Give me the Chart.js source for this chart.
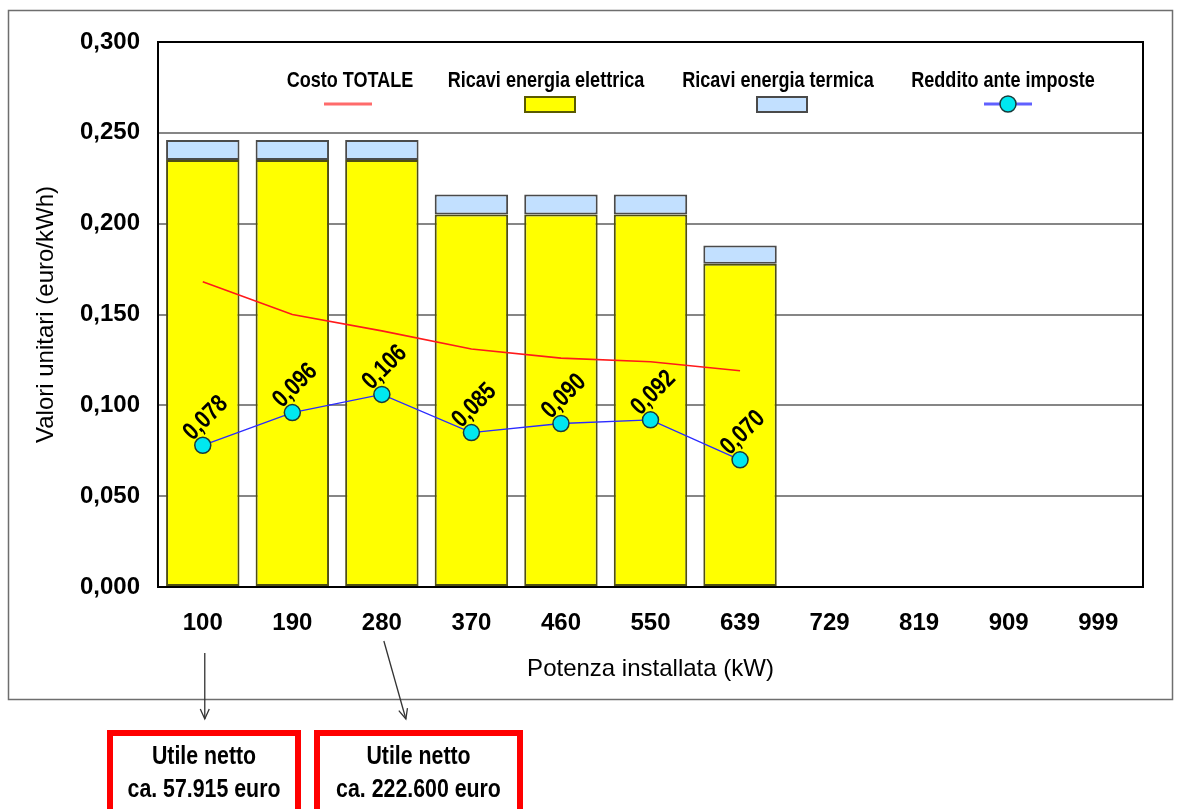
<!DOCTYPE html>
<html>
<head>
<meta charset="utf-8">
<script src="https://cdn.jsdelivr.net/npm/chart.js@4/dist/chart.umd.min.js"></script>
<style>
  html, body { margin: 0; padding: 0; background: #ffffff; }
  #wrap { width: 1181px; height: 809px; position: relative; overflow: hidden; }
  canvas { display: block; }
</style>
</head>
<body>
<div id="wrap"><canvas id="c" width="1181" height="809"></canvas></div>
<script>
// ---------------- DATA ----------------
const categories = ['100', '190', '280', '370', '460', '550', '639', '729', '819', '909', '999'];
const ricaviElettrica = [0.235, 0.235, 0.235, 0.205, 0.205, 0.205, 0.178, null, null, null, null];
const ricaviTermica   = [0.011, 0.011, 0.011, 0.011, 0.011, 0.011, 0.010, null, null, null, null];
const costoTotale     = [0.168, 0.150, 0.141, 0.131, 0.126, 0.124, 0.119, null, null, null, null];
const redditoAnteImposte = [0.078, 0.096, 0.106, 0.085, 0.090, 0.092, 0.070, null, null, null, null];
const yTickValues = [0.000, 0.050, 0.100, 0.150, 0.200, 0.250, 0.300];
const seriesNames = ['Costo TOTALE', 'Ricavi energia elettrica', 'Ricavi energia termica', 'Reddito ante imposte'];
const noteCategories = ['100', '280'];
const noteTexts = [['Utile netto', 'ca. 57.915 euro'], ['Utile netto', 'ca. 222.600 euro']];
const yTitle = 'Valori unitari (euro/kWh)';
const xTitle = 'Potenza installata (kW)';

// ---------------- STYLE ----------------
const FAM = "'Liberation Sans', Arial, sans-serif";
const NARROW = 0.82;
const fmt = v => v.toFixed(3).replace('.', ',');

function narrowText(ctx, text, x, y, size, bold, rot) {
  ctx.save();
  ctx.translate(x, y);
  if (rot) ctx.rotate(rot);
  ctx.scale(NARROW, 1);
  ctx.font = (bold ? 'bold ' : '') + size + 'px ' + FAM;
  ctx.textAlign = 'center';
  ctx.textBaseline = 'middle';
  ctx.fillStyle = '#000000';
  ctx.fillText(text, 0, 0);
  ctx.restore();
}

const framePlugin = {
  id: 'frame',
  beforeDraw(chart) {
    const ctx = chart.ctx;
    ctx.save();
    ctx.fillStyle = '#ffffff';
    ctx.fillRect(0, 0, chart.width, chart.height);
    ctx.strokeStyle = '#6e6e6e';
    ctx.lineWidth = 1.5;
    ctx.strokeRect(8.5, 10.5, 1164, 689);
    ctx.restore();
  },
  afterDatasetsDraw(chart) {
    const ctx = chart.ctx;
    const a = chart.chartArea;
    ctx.save();
    ctx.strokeStyle = '#000000';
    ctx.lineWidth = 2;
    ctx.beginPath();
    ctx.moveTo(a.left, a.bottom);
    ctx.lineTo(a.left, a.top);
    ctx.lineTo(a.right, a.top);
    ctx.lineTo(a.right, a.bottom);
    ctx.stroke();

    // point labels for "Reddito ante imposte"
    const meta = chart.getDatasetMeta(3);
    meta.data.forEach((pt, i) => {
      const v = redditoAnteImposte[i];
      if (v === null || v === undefined) return;
      narrowText(ctx, fmt(v), pt.x + 3, pt.y - 27, 25, true, -45 * Math.PI / 180);
    });

    // legend inside plot area
    const ty = a.top + 39, sy = a.top + 62;
    const textX = [350, 546, 778, 1003];
    const symX = [348, 550, 782, 1008];
    seriesNames.forEach((name, i) => {
      narrowText(ctx, name, textX[i], ty, 22, true, 0);
      const scx = symX[i];
      if (i === 0) {
        ctx.strokeStyle = '#ff6b6b';
        ctx.lineWidth = 3;
        ctx.beginPath(); ctx.moveTo(scx - 24, sy); ctx.lineTo(scx + 24, sy); ctx.stroke();
      } else if (i === 1 || i === 2) {
        ctx.fillStyle = i === 1 ? '#ffff00' : '#c2e0ff';
        ctx.fillRect(scx - 25, sy - 7, 50, 15);
        ctx.strokeStyle = i === 1 ? '#5a5a00' : '#4a4a4a';
        ctx.lineWidth = 2;
        ctx.strokeRect(scx - 25, sy - 7, 50, 15);
      } else {
        ctx.strokeStyle = '#6060ff';
        ctx.lineWidth = 3;
        ctx.beginPath(); ctx.moveTo(scx - 24, sy); ctx.lineTo(scx + 24, sy); ctx.stroke();
        ctx.fillStyle = '#00e8f0';
        ctx.strokeStyle = '#1a3a3a';
        ctx.lineWidth = 1.5;
        ctx.beginPath(); ctx.arc(scx, sy, 8, 0, Math.PI * 2); ctx.fill(); ctx.stroke();
      }
    });
    ctx.restore();
  },
  afterDraw(chart) {
    const ctx = chart.ctx;
    const xs = chart.scales.x;
    ctx.save();
    const arrows = [
      { dx0: 2, y0: 653, dx1: 2, y1: 719, bcx: 204, bw: 188 },
      { dx0: 2, y0: 641, dx1: 24, y1: 719, bcx: 418.5, bw: 203 }
    ];
    noteCategories.forEach((cat, k) => {
      const idx = categories.indexOf(cat);
      const x = xs.getPixelForValue(idx);
      const ar = arrows[k];
      const x0 = x + ar.dx0, x1 = x + ar.dx1;
      ctx.strokeStyle = '#333333';
      ctx.lineWidth = 1.3;
      ctx.beginPath(); ctx.moveTo(x0, ar.y0); ctx.lineTo(x1, ar.y1); ctx.stroke();
      const ang = Math.atan2(ar.y1 - ar.y0, x1 - x0);
      const hl = 11, ha = 0.42;
      ctx.beginPath();
      ctx.moveTo(x1 - hl * Math.cos(ang - ha), ar.y1 - hl * Math.sin(ang - ha));
      ctx.lineTo(x1, ar.y1);
      ctx.lineTo(x1 - hl * Math.cos(ang + ha), ar.y1 - hl * Math.sin(ang + ha));
      ctx.stroke();
      ctx.strokeStyle = '#ff0000';
      ctx.lineWidth = 6;
      ctx.strokeRect(ar.bcx - ar.bw / 2, 733, ar.bw, 90);
      narrowText(ctx, noteTexts[k][0], ar.bcx, 757, 26, true, 0);
      narrowText(ctx, noteTexts[k][1], ar.bcx, 790, 26, true, 0);
    });
    ctx.restore();
  }
};

Chart.defaults.font.family = FAM;
Chart.defaults.color = '#000000';

new Chart(document.getElementById('c'), {
  type: 'bar',
  data: {
    labels: categories,
    datasets: [
      {
        type: 'line', label: seriesNames[0], data: costoTotale, stack: 'costo',
        borderColor: '#ff1a1a', borderWidth: 1.6, pointRadius: 0, fill: false,
        tension: 0, order: 2, spanGaps: false
      },
      {
        type: 'bar', label: seriesNames[1], data: ricaviElettrica, stack: 'ricavi',
        backgroundColor: '#ffff00', borderColor: '#4f4f14', borderWidth: 2,
        borderSkipped: false, barPercentage: 0.82, categoryPercentage: 1.0, order: 3
      },
      {
        type: 'bar', label: seriesNames[2], data: ricaviTermica, stack: 'ricavi',
        backgroundColor: '#c2e0ff', borderColor: '#4a4a4a', borderWidth: 2,
        borderSkipped: false, barPercentage: 0.82, categoryPercentage: 1.0, order: 3
      },
      {
        type: 'line', label: seriesNames[3], data: redditoAnteImposte, stack: 'reddito',
        borderColor: '#2b2bff', borderWidth: 1.3, fill: false, tension: 0,
        pointRadius: 8, pointBackgroundColor: '#00e8f0', pointBorderColor: '#1a3a3a',
        pointBorderWidth: 1.5, order: 1
      }
    ]
  },
  options: {
    responsive: false,
    animation: false,
    devicePixelRatio: 1,
    events: [],
    layout: { padding: { left: 10, right: 38, top: 42, bottom: 123 } },
    plugins: { legend: { display: false }, tooltip: { enabled: false } },
    scales: {
      x: {
        stacked: true,
        grid: { display: false, drawTicks: false },
        border: { display: true, color: '#000000', width: 2 },
        ticks: { font: { size: 24, weight: 'bold', family: FAM }, color: '#000000', padding: 22, maxRotation: 0, autoSkip: false },
        title: { display: true, text: xTitle, font: { size: 24, family: FAM }, color: '#000000', padding: { top: 0, bottom: 2 } },
        afterFit(s) { s.height = 99; }
      },
      y: {
        stacked: true,
        min: 0, max: 0.3,
        afterBuildTicks(s) { s.ticks = yTickValues.map(v => ({ value: v })); },
        grid: { color: '#868686', lineWidth: 2, drawTicks: false },
        border: { display: true, color: '#000000', width: 2 },
        ticks: { font: { size: 24, weight: 'bold', family: FAM }, color: '#000000', padding: 18, callback: v => fmt(v) },
        title: { display: true, text: yTitle, font: { size: 24, family: FAM }, color: '#000000', padding: { top: 22, bottom: 0 } },
        afterFit(s) { s.width = 148; }
      }
    }
  },
  plugins: [framePlugin]
});
</script>
</body>
</html>
